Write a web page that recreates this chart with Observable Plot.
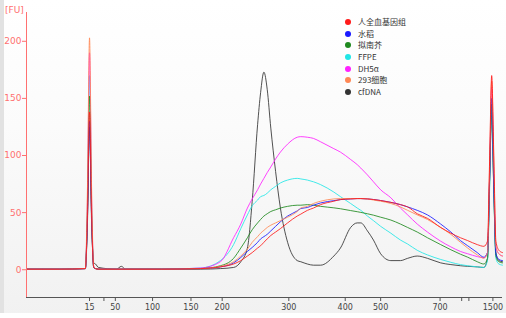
<!DOCTYPE html>
<html>
<head>
<meta charset="utf-8">
<script src="https://cdn.jsdelivr.net/npm/d3@7"></script>
<script src="https://cdn.jsdelivr.net/npm/@observablehq/plot@0.6"></script>
<style>
  html, body { margin: 0; padding: 0; background: #fff; }
  #wrap { position: relative; width: 506px; height: 318px; overflow: hidden;
          background: linear-gradient(#ffffff 0%, #fbfbfb 40%, #f1f1f1 100%); }
  #wrap svg { position: absolute; left: 0; top: 0; }
  #leftstrip { position: absolute; left: 0; top: 0; width: 4px; height: 313px; background: #e2e2e2; }
  #bottomwhite { position: absolute; left: 0; top: 313px; width: 506px; height: 5px; background: #fff; }
  #fu { position: absolute; left: 5px; top: 5px; font: 9px "DejaVu Sans", sans-serif; color: #ff6f6f; }
  #legend { position: absolute; left: 345px; top: 16px; font: 8px "Noto Sans CJK SC", "DejaVu Sans", sans-serif; color: #333; }
  #legend .row { height: 11.7px; line-height: 11.7px; display: flex; align-items: center; }
  #legend .dot { width: 6px; height: 6px; border-radius: 50%; margin-right: 7px; }
</style>
</head>
<body>
<div id="wrap">
  <div id="leftstrip"></div>
  <div id="bottomwhite"></div>
  <div id="fu">[FU]</div>
  <div id="legend"></div>
</div>
<script>
// Migration time (s) sample points
const times = [32.5, 38, 42.3, 42.65, 43.0, 43.35, 43.7, 44.0, 44.5, 47.5, 48.3, 49.0, 55, 61.5, 64.8, 67.0, 68.2, 69.3, 70.1, 71.0, 71.5, 72.05, 72.6, 73.2, 74.0, 74.8, 76.0, 77.6, 78.2, 79.3, 80.3, 81.5, 83.7, 84.8, 86.5, 87.6, 88.2, 89.3, 90.3, 91.5, 93.2, 94.8, 96.0, 97.6, 99.3, 101.5, 103.2, 104.8, 106.0, 107.6, 108.7, 109.3, 109.65, 110.0, 110.35, 110.7, 111.2, 111.8];

// Fluorescence (FU) per sample
const cfDNA = [0.5, 0.5, 1, 40, 125, 40, 6, 5, 2, 0.5, 3, 0.5, 0.5, 0.5, 1, 2, 7, 19, 60, 127, 155, 173, 158, 124, 86, 54, 24, 8, 7, 5, 4, 4, 12, 19, 37, 41, 41, 34, 26, 14, 8, 8, 10, 12, 10, 6, 4.5, 3.5, 3, 2.5, 2, 10, 80, 135, 70, 15, 8, 7];
const dh5a = [0.5, 0.5, 1, 60, 190, 60, 3, 1, 0.5, 0.5, 0.5, 0.5, 0.5, 1.5, 7, 28, 40, 54, 62, 70, 75, 80, 85, 90, 97, 103, 110, 116, 116.5, 116, 115, 112, 106, 103, 96.5, 92, 89, 83, 77, 70, 63, 54, 48, 40, 33, 25, 20, 16, 14, 11.5, 10.5, 15, 80, 160, 80, 20, 14, 12];
const ffpe = [0.5, 0.5, 1, 55, 170, 55, 2, 1, 0.5, 0.5, 0.5, 0.5, 0.5, 1.5, 8, 22, 36, 48, 56, 61, 64, 65, 67, 70, 73, 76, 78.5, 80, 79.5, 78.5, 77, 74.5, 68, 64, 58, 54, 52, 47, 43, 38, 32, 26, 22.5, 17, 13, 9, 6.5, 4.5, 3.5, 2.5, 2, 8, 70, 140, 70, 10, 5, 4];
const arabidopsis = [0.5, 0.5, 1, 50, 152, 50, 2, 1, 0.5, 0.5, 0.5, 0.5, 0.5, 1, 3.5, 10, 19, 28, 35, 41, 44, 47, 49, 51, 52.5, 54, 55.5, 56.5, 56.5, 57, 56.5, 55.5, 54.2, 53.4, 51.8, 50.8, 50.2, 49, 47.8, 46, 43.5, 40, 37, 33, 28, 22, 17.5, 13.6, 11, 7, 5, 10, 75, 145, 70, 12, 7, 6];
const rice = [0.5, 0.5, 1, 45, 130, 45, 2, 1, 0.5, 0.5, 0.5, 0.5, 0.5, 1, 2.5, 6, 10.7, 16, 19.5, 24, 27, 29, 31, 34, 38, 42, 47, 51.5, 53.6, 54.5, 56.5, 58.5, 60.5, 61.4, 62, 62.3, 62.3, 62, 61.5, 60.6, 59, 57, 55, 52, 48, 40, 33, 25.5, 21, 15, 11, 15, 80, 150, 75, 14, 9, 8];
const cells293 = [0.5, 0.5, 1, 70, 203, 70, 3, 1, 0.5, 0.5, 0.5, 0.5, 0.5, 1, 3, 7, 12, 18, 24, 29, 32, 34.5, 37, 39, 41, 43, 46, 51, 54, 55.5, 58, 60, 62, 62.3, 62.3, 62.3, 62.3, 62, 61, 60, 58, 55, 52, 48, 44, 37, 31, 24, 19, 13, 10, 15, 90, 165, 95, 20, 14, 12];
const humanBlood = [0.5, 0.5, 1, 45, 138, 45, 2, 1, 0.5, 0.5, 0.5, 0.5, 0.5, 1, 2.5, 5, 8, 12, 15, 19, 21, 24, 27, 30, 33, 36, 41, 47, 48.7, 52, 54, 57, 60, 61.4, 62, 62.3, 62.3, 62, 61.5, 60.6, 59, 57, 55, 49, 45, 37, 32, 28, 25.5, 22, 20.5, 25, 95, 170, 100, 25, 17, 15];

// Legend / series
const seriesNames = ["人全血基因组", "水稻", "拟南芥", "FFPE", "DH5α", "293细胞", "cfDNA"];
const seriesColors = ["#ff1a1a", "#1a1aff", "#1f8a1f", "#22e6e6", "#ff22ff", "#ff8855", "#333333"];
const seriesValues = [humanBlood, rice, arabidopsis, ffpe, dh5a, cells293, cfDNA];
const drawOrder = [6, 3, 4, 2, 1, 5, 0];

// Ladder: time positions and size labels (bp)
const ladderTimes = [43.0, 45.4, 47.3, 53.5, 59.9, 65.1, 76.2, 85.6, 91.5, 101.4, 105.0, 106.2, 110.2];
const ladderLabels = ["15", "", "50", "100", "150", "200", "300", "400", "500", "700", "", "", "1500"];

const yTicks = [0, 50, 100, 150, 200];
const xDomain = [32.5, 111.8];
const yDomain = [-24.3, 225.2];

const rows = [];
for (const i of drawOrder) {
  times.forEach((t, j) => rows.push({series: seriesNames[i], t, fu: seriesValues[i][j]}));
}

const pink = "#ff7070";
const chart = Plot.plot({
  width: 506,
  height: 318,
  marginLeft: 26,
  marginRight: 4,
  marginTop: 12,
  marginBottom: 21,
  style: {background: "transparent", fontFamily: "DejaVu Sans, sans-serif"},
  x: {domain: xDomain},
  y: {domain: yDomain},
  color: {domain: seriesNames, range: seriesColors},
  marks: [
    Plot.line(rows, {x: "t", y: "fu", z: "series", stroke: "series", strokeWidth: 1, strokeOpacity: 0.85, curve: "monotone-x"}),
    Plot.ruleX([xDomain[0]], {stroke: pink, strokeWidth: 1}),
    Plot.ruleY([yDomain[0]], {stroke: "#555", strokeWidth: 1}),
    Plot.axisY({ticks: yTicks, tickSize: 4, tickPadding: 1, stroke: pink, color: pink, fontSize: 9, label: null}),
    Plot.axisX({ticks: ladderTimes, tickFormat: (d, i) => ladderLabels[i], tickSize: 4, tickPadding: 3, stroke: "#555", color: "#444", fontSize: 8, label: null})
  ]
});
document.getElementById("wrap").appendChild(chart);

const leg = document.getElementById("legend");
seriesNames.forEach((n, i) => {
  const r = document.createElement("div");
  r.className = "row";
  r.innerHTML = `<span class="dot" style="background:${seriesColors[i]}"></span><span>${n}</span>`;
  leg.appendChild(r);
});
</script>
</body>
</html>
